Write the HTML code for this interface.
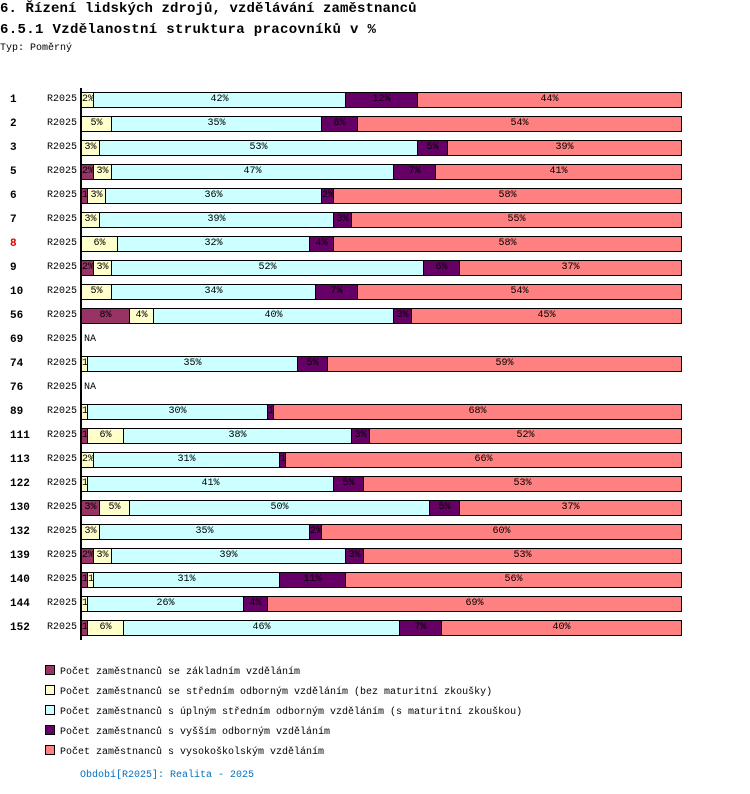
<!DOCTYPE html>
<html><head><meta charset="utf-8">
<style>
body{margin:0;width:750px;height:794px;background:#fff;position:relative;overflow:hidden;font-family:"Liberation Mono",monospace;color:#000}
.t1{position:absolute;left:0;top:1px;font-size:14px;font-weight:bold;letter-spacing:0.1px;white-space:nowrap}
.t2{position:absolute;left:0;top:22px;font-size:14px;font-weight:bold;letter-spacing:0.35px;white-space:nowrap}
.t3{position:absolute;left:0;top:43px;font-size:10px;white-space:nowrap}
.rn{position:absolute;left:10px;font-size:11px;font-weight:bold;line-height:16px}
.rl{position:absolute;left:47px;font-size:10px;line-height:16px}
.seg{position:absolute;height:16px;box-sizing:border-box;border:1px solid #000;overflow:hidden;text-align:center;font-size:10px;line-height:14px;white-space:nowrap}
.axis{position:absolute;left:80px;top:88px;width:2px;height:552px;background:#000}
.lg{position:absolute;left:45px;font-size:10px;white-space:nowrap}
.lg span.sw{display:inline-block;width:8px;height:8px;border:1px solid #000;margin-right:5px;vertical-align:-1px}
.na{position:absolute;left:84px;font-size:10px;line-height:16px}
</style></head><body>
<div class="t1">6. Řízení lidských zdrojů, vzdělávání zaměstnanců</div>
<div class="t2">6.5.1 Vzdělanostní struktura pracovníků v %</div>
<div class="t3">Typ: Poměrný</div>
<div id="chart"></div>
<div class="axis"></div>
<div class="lg" style="top:665px"><span class="sw" style="background:#993366"></span>Počet zaměstnanců se základním vzděláním</div>
<div class="lg" style="top:685px"><span class="sw" style="background:#FFFFCC"></span>Počet zaměstnanců se středním odborným vzděláním (bez maturitní zkoušky)</div>
<div class="lg" style="top:705px"><span class="sw" style="background:#CCFFFF"></span>Počet zaměstnanců s úplným středním odborným vzděláním (s maturitní zkouškou)</div>
<div class="lg" style="top:725px"><span class="sw" style="background:#660066"></span>Počet zaměstnanců s vyšším odborným vzděláním</div>
<div class="lg" style="top:745px"><span class="sw" style="background:#FF8080"></span>Počet zaměstnanců s vysokoškolským vzděláním</div>
<div style="position:absolute;left:80px;top:770px;font-size:10px;color:#0070c0">Období[R2025]: Realita - 2025</div>
<script>
const categories=["1","2","3","5","6","7","8","9","10","56","69","74","76","89","111","113","122","130","132","139","140","144","152"];
const zakladni=[0,0,0,2,1,0,0,2,0,8,null,0,null,0,1,0,0,3,0,2,1,0,1];
const stredni=[2,5,3,3,3,3,6,3,5,4,null,1,null,1,6,2,1,5,3,3,1,1,6];
const uplne=[42,35,53,47,36,39,32,52,34,40,null,35,null,30,38,31,41,50,35,39,31,26,46];
const vyssi=[12,6,5,7,2,3,4,6,7,3,null,5,null,1,3,1,5,5,2,3,11,4,7];
const vysoke=[44,54,39,41,58,55,58,37,54,45,null,59,null,68,52,66,53,37,60,53,56,69,40];
const series=[zakladni,stredni,uplne,vyssi,vysoke];
const colors=["#993366","#FFFFCC","#CCFFFF","#660066","#FF8080"];
const X0=81,W=600,Y0=92,STEP=24;
const chart=document.getElementById('chart');
function xs(v){return v/100*W;}
categories.forEach((c,i)=>{
  const y=Y0+i*STEP;
  const rn=document.createElement('div');
  rn.className='rn';rn.style.top=y+'px';rn.textContent=c;
  if(c==='8')rn.style.color='#e00000';
  
  
  chart.appendChild(rn);
  const rl=document.createElement('div');
  rl.className='rl';rl.style.top=y+'px';rl.textContent='R2025';
  
  
  chart.appendChild(rl);
  if(zakladni[i]===null){
    const na=document.createElement('div');
    na.className='na';na.style.top=y+'px';na.textContent='NA';
    
    
    chart.appendChild(na);return;
  }
  let tot=0;series.forEach(s=>tot+=s[i]);
  let acc=0;
  series.forEach((s,k)=>{
    const v=s[i];if(!v)return;
    const x1=Math.round(X0+xs(acc/tot*100)),x2=Math.round(X0+xs((acc+v)/tot*100));
    acc+=v;
    const d=document.createElement('div');
    d.className='seg';
    d.style.left=x1+'px';d.style.top=y+'px';d.style.width=(x2-x1+1)+'px';
    d.style.background=colors[k];
    d.textContent=v+'%';
    
    
    chart.appendChild(d);
  });
});
</script>
</body></html>
